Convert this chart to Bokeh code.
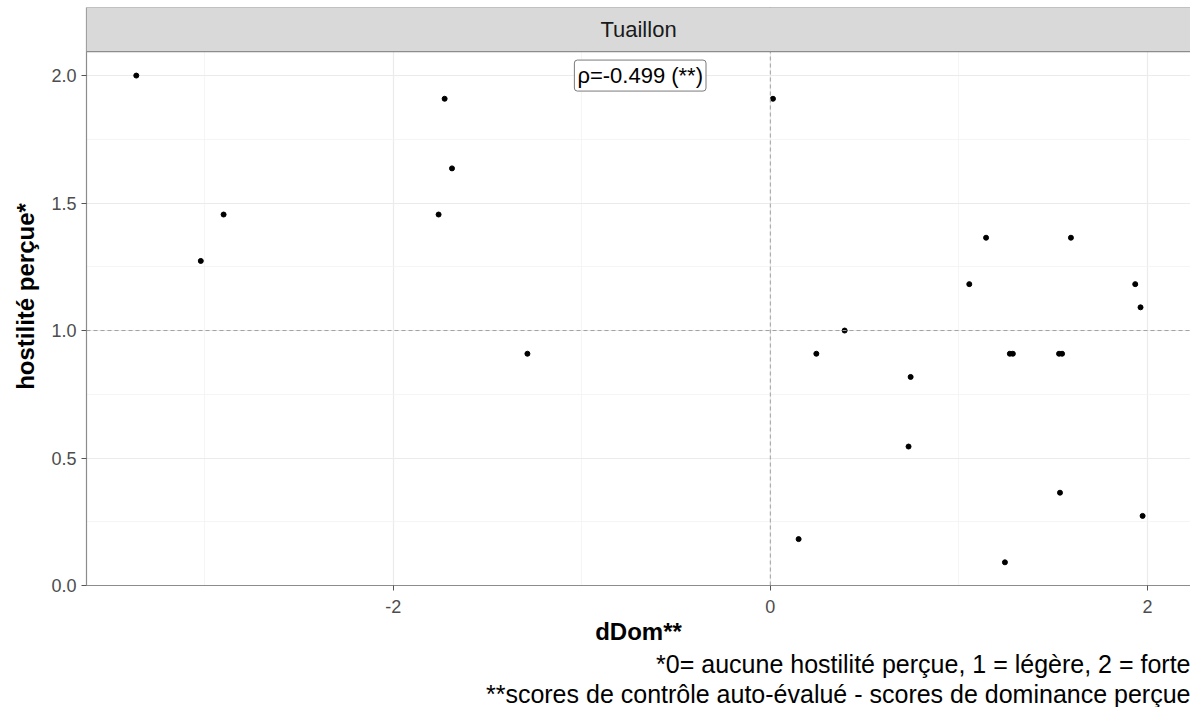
from bokeh.plotting import figure
from bokeh.models import (Range1d, FixedTicker, PrintfTickFormatter, Span,
                          BoxAnnotation, Label, Title, ColumnDataSource)
from bokeh.embed import file_html
from bokeh.resources import INLINE

# ---------------- data ----------------
panel_title = "Tuaillon"
x_label = "dDom**"
y_label = "hostilité perçue*"
caption_1 = "*0= aucune hostilité perçue, 1 = légère, 2 = forte"
caption_2 = "**scores de contrôle auto-évalué - scores de dominance perçue"
rho_text = "ρ=-0.499 (**)"
rho_pos = (-0.69, 2.0)

ddom = [-3.362, -3.020, -2.899, -1.727, -1.688, -1.759, -1.288, 0.014,
        0.150, 0.244, 0.394, 0.744, 0.733, 1.270, 1.286, 1.531, 1.547,
        1.244, 1.536, 1.974, 1.963, 1.144, 1.594, 1.055, 1.935]
hostilite = [2.000, 1.273, 1.455, 1.909, 1.636, 1.455, 0.909, 1.909,
             0.182, 0.909, 1.000, 0.818, 0.545, 0.909, 0.909, 0.909, 0.909,
             0.091, 0.364, 0.273, 1.091, 1.364, 1.364, 1.182, 1.182]

x_ticks = [-2, 0, 2]
x_minor = [-3, -1, 1]
y_ticks = [0.0, 0.5, 1.0, 1.5, 2.0]
y_minor = [0.25, 0.75, 1.25, 1.75, 2.25]

# ---------------- layout ----------------
XMIN, XMAX = -3.626, 2.228
YMAX = 2.267          # top of strip
YPANEL = 2.094        # top of data panel (strip bottom)

FONT = "Liberation Sans"
BORDER = "#8c8c8c"

p = figure(width=1190, height=707,
           x_range=Range1d(XMIN, XMAX), y_range=Range1d(0, YMAX),
           output_backend="svg", toolbar_location=None,
           min_border_left=86, min_border_right=0,
           min_border_top=7, min_border_bottom=122)
p.background_fill_color = "white"
p.border_fill_color = "white"
p.outline_line_color = None

# axes
p.xaxis.ticker = FixedTicker(ticks=x_ticks, minor_ticks=x_minor)
p.yaxis.ticker = FixedTicker(ticks=y_ticks, minor_ticks=y_minor)
p.xaxis.formatter = PrintfTickFormatter(format="%d")
p.yaxis.formatter = PrintfTickFormatter(format="%.1f")
p.yaxis.bounds = (0, YMAX)
for ax in (p.xaxis, p.yaxis):
    ax.axis_line_color = BORDER
    ax.axis_line_width = 1.2
    ax.major_tick_line_color = "#555555"
    ax.major_tick_out = 5
    ax.major_tick_in = 0
    ax.minor_tick_out = 0
    ax.minor_tick_in = 0
    ax.major_label_text_font = FONT
    ax.major_label_text_font_size = "18px"
    ax.major_label_text_color = "#4d4d4d"
    ax.axis_label_text_font = FONT
    ax.axis_label_text_font_size = "24px"
    ax.axis_label_text_font_style = "bold"
    ax.axis_label_text_color = "#000000"
p.xaxis.major_label_standoff = 9
p.yaxis.major_label_standoff = 5
p.xaxis.axis_label = x_label
p.yaxis.axis_label = y_label
p.xaxis.axis_label_standoff = 2
p.yaxis.axis_label_standoff = 9

# grids
for g in (p.xgrid, p.ygrid):
    g.grid_line_color = "#ebebeb"
    g.grid_line_width = 1.2
    g.minor_grid_line_color = "#f3f3f3"
    g.minor_grid_line_width = 0.8

# points
src = ColumnDataSource(dict(x=ddom, y=hostilite))
p.scatter("x", "y", source=src, size=5, color="black")

# reference lines
p.add_layout(Span(location=1.0, dimension="width", line_color="#a0a0a0",
                  line_dash="4 3", line_width=1))
p.add_layout(Span(location=0.0, dimension="height", line_color="#a0a0a0",
                  line_dash="4 3", line_width=1))

# facet strip
p.add_layout(BoxAnnotation(bottom=YPANEL, fill_color="#d9d9d9", fill_alpha=1.0,
                           line_color=None))
p.add_layout(Span(location=YPANEL, dimension="width", line_color=BORDER,
                  line_width=1.2))
p.add_layout(Span(location=YMAX, dimension="width", line_color=BORDER,
                  line_width=1.2))
p.add_layout(Label(x=(XMIN + XMAX) / 2, y=(YPANEL + YMAX) / 2, text=panel_title,
                   text_align="center", text_baseline="middle",
                   text_font=FONT, text_font_size="22px", text_color="#1a1a1a"))

# correlation label
p.add_layout(Label(x=rho_pos[0], y=rho_pos[1], text=rho_text,
                   text_align="center", text_baseline="middle",
                   text_font=FONT, text_font_size="22px", text_color="#000000",
                   background_fill_color="white", background_fill_alpha=1.0,
                   border_line_color="#7a7a7a", border_line_width=1,
                   padding=3, border_radius=3))

# captions
for cap in (caption_1, caption_2):
    p.add_layout(Title(text=cap, align="right", text_font=FONT,
                       text_font_size="25px", text_font_style="normal",
                       text_color="#000000", standoff=0), "below")

open("out.html", "w").write(file_html(p, INLINE))
